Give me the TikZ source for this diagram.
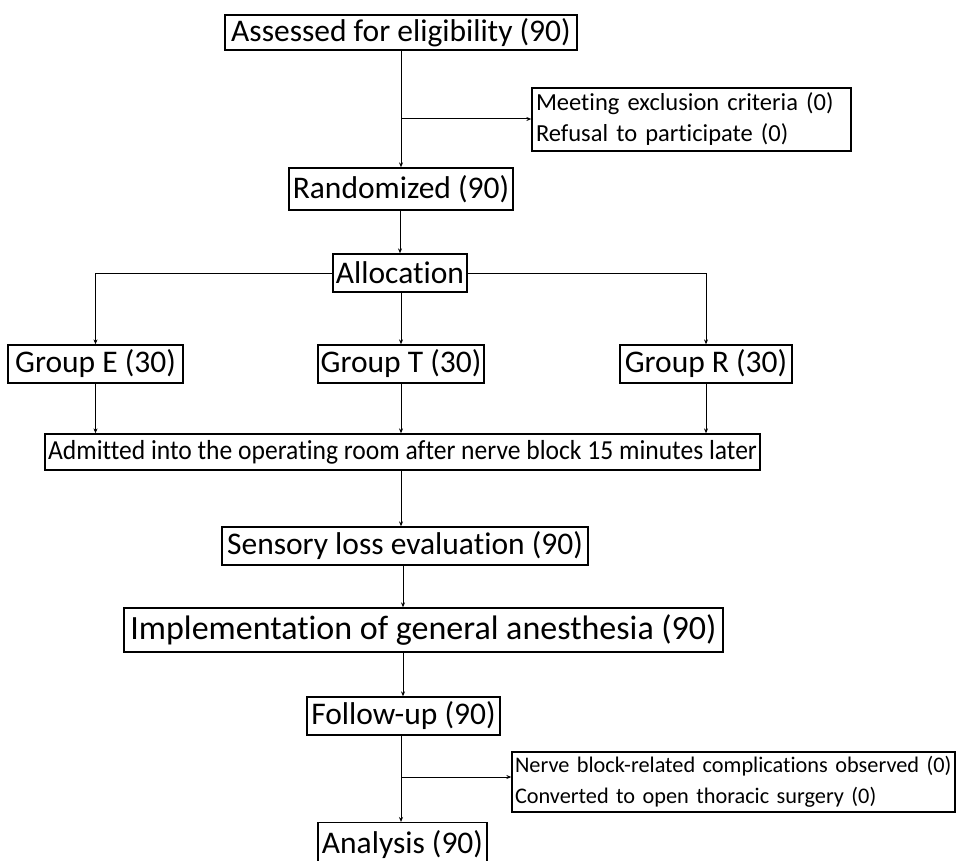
\documentclass[tikz,border=0pt]{standalone}
\usepackage{fontspec}
\setmainfont{Carlito}[Ligatures={NoCommon}]
\usetikzlibrary{arrows.meta}
\begin{document}
\begin{tikzpicture}[x=1pt,y=-1pt,
  box/.style={draw, line width=1.3pt, inner sep=0pt, align=center},
  big/.style={font=\fontsize{31.5}{36}\selectfont},
  small/.style={font=\fontsize{24.5}{31}\selectfont},
  arr/.style={line width=1pt, -{Stealth[length=5pt,width=4pt]}},
  ln/.style={line width=1pt}]
\clip (0,0) rectangle (956,861);
\fill[white] (0,0) rectangle (956,861);
\node[box,big,minimum width=352pt,minimum height=35pt] (ass) at (401,32.5) {Assessed for eligibility (90)};
\node[box,small,align=left,minimum width=319pt,minimum height=63pt,text width=311pt] (exc) at (691.5,119.5) {Meeting exclusion criteria (0)\\Refusal to participate (0)};
\node[box,big,minimum width=224pt,minimum height=42pt] (ran) at (401,189) {Randomized (90)};
\node[box,big,minimum width=134pt,minimum height=38pt] (all) at (400,273) {Allocation};
\node[box,big,minimum width=175pt,minimum height=38pt] (ge) at (95.5,364) {Group E (30)};
\node[box,big,minimum width=166pt,minimum height=38pt] (gt) at (401,364) {Group T (30)};
\node[box,big,minimum width=172pt,minimum height=38pt] (gr) at (706,364) {Group R (30)};
\node[box,minimum width=715pt,minimum height=36pt,font=\fontsize{27.5}{32}\selectfont] (adm) at (402.5,452) {\scalebox{0.93}[1]{Admitted into the operating room after nerve block 15 minutes later}};
\node[box,big,minimum width=366pt,minimum height=38pt] (sen) at (405,546) {Sensory loss evaluation (90)};
\node[box,minimum width=599pt,minimum height=44pt,font=\fontsize{34}{38}\selectfont] (imp) at (423.5,630) {Implementation of general anesthesia (90)};
\node[box,big,minimum width=193pt,minimum height=38pt] (fol) at (403.5,716) {Follow-up (90)};
\node[box,align=left,minimum width=443pt,minimum height=60pt,text width=437pt,font=\fontsize{22.3}{31}\selectfont] (com) at (733.5,782) {Nerve block-related complications observed (0)\\Converted to open thoracic surgery (0)};
\node[box,minimum width=169pt,minimum height=60pt,anchor=north] (ana) at (402.5,822) {};
\node[big,anchor=north,inner sep=0pt] at (ana.north) [yshift=-8pt] {Analysis (90)};
% connectors
\draw[arr] (ass.south -| ran.north) -- (ran.north);
\coordinate (j1) at (401,119);
\draw[arr] (j1) -- (j1 -| exc.west);
\draw[arr] (ran.south -| all.north) -- (all.north);
\draw[arr] (all.west) -| (ge.north);
\draw[arr] (all.east) -| (gr.north);
\draw[arr] (all.south -| gt.north) -- (gt.north);
\draw[arr] (ge.south) -- (ge.south |- adm.north);
\draw[arr] (gt.south) -- (gt.south |- adm.north);
\draw[arr] (gr.south) -- (gr.south |- adm.north);
\draw[arr] (adm.south -| 401,0) -- (sen.north -| 401,0);
\draw[arr] (sen.south -| 403,0) -- (imp.north -| 403,0);
\draw[arr] (imp.south -| 403,0) -- (fol.north -| 403,0);
\draw[arr] (fol.south -| 401,0) -- (ana.north -| 401,0);
\coordinate (j2) at (401,777);
\draw[arr] (j2) -- (j2 -| com.west);
\end{tikzpicture}
\end{document}
